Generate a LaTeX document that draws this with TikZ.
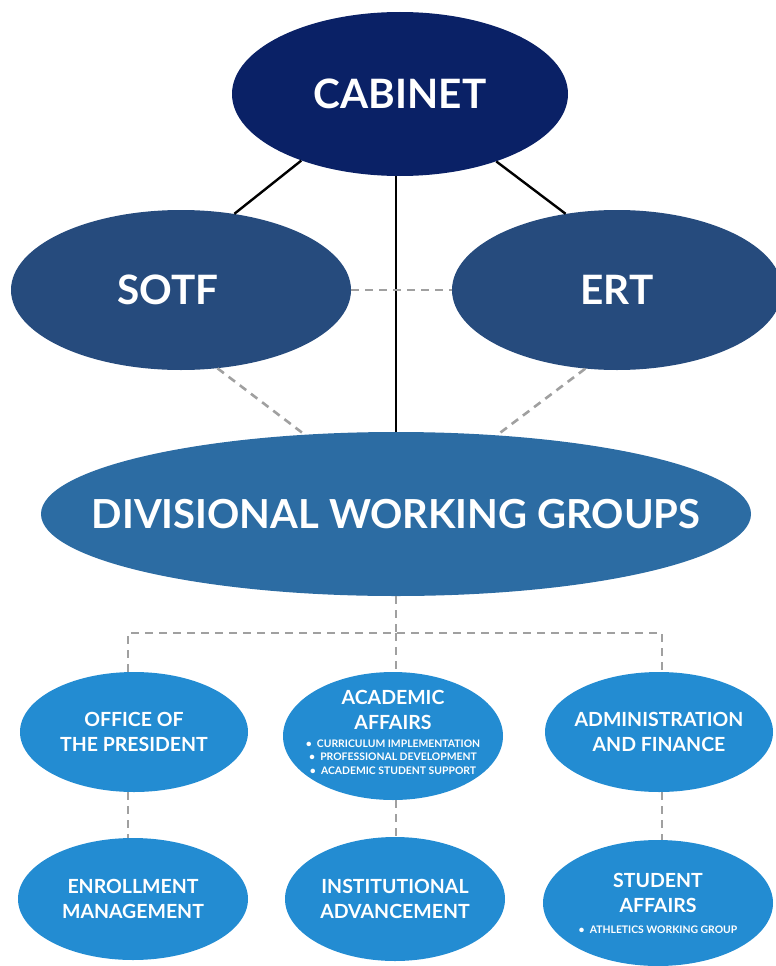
\documentclass[tikz,border=0pt]{standalone}
\usepackage{fontspec}
\setmainfont{Lato}
\usetikzlibrary{shapes.geometric}
\definecolor{navy}{RGB}{10,33,102}
\definecolor{midblue}{RGB}{38,75,125}
\definecolor{groupblue}{RGB}{44,108,163}
\definecolor{unitblue}{RGB}{35,140,210}
\definecolor{dashgray}{RGB}{160,160,160}
\newcommand\bulletfont{\bfseries\fontsize{10.4}{13.5}\selectfont}
\begin{document}
\begin{tikzpicture}[x=1pt,y=-1pt,
  oval/.style={ellipse, inner sep=0pt},
  caption/.style={text=white, align=center, inner sep=0pt},
  bigfont/.style={font=\bfseries\fontsize{40.5}{40}\selectfont},
  unitfont/.style={font=\bfseries\fontsize{19.5}{25}\selectfont},
  solidlink/.style={draw=black, line width=2.4pt},
  dashlink/.style={draw=dashgray, line width=2.6pt, dash pattern=on 8pt off 6pt}
]
\useasboundingbox (0,0) rectangle (776,966);

% top levels
\node[oval, fill=navy, minimum width=336pt, minimum height=164pt] (cab) at (400,94) {};
\node[oval, fill=midblue, minimum width=340pt, minimum height=160pt] (sotf) at (181,290) {};
\node[oval, fill=midblue, minimum width=330pt, minimum height=160pt] (ert) at (617,290) {};
\node[oval, fill=groupblue, minimum width=710pt, minimum height=164pt] (dwg) at (396,514) {};

\node[caption, bigfont] (cabtext) at (cab.center) {CABINET};
\node[caption, bigfont] (sotftext) at ([xshift=-13pt]sotf.center) {SOTF};
\node[caption, bigfont] (erttext) at (ert.center) {ERT};
\node[caption, font=\bfseries\fontsize{40}{40}\selectfont] (dwgtext) at (dwg.center) {DIVISIONAL WORKING GROUPS};

% divisions
\node[oval, fill=unitblue, minimum width=228pt, minimum height=120pt] (off) at (134,732) {};
\node[oval, fill=unitblue, minimum width=220pt, minimum height=128pt] (aca) at (393,736) {};
\node[oval, fill=unitblue, minimum width=228pt, minimum height=120pt] (adm) at (659,732) {};
\node[oval, fill=unitblue, minimum width=230pt, minimum height=122pt] (enr) at (133,899) {};
\node[oval, fill=unitblue, minimum width=220pt, minimum height=124pt] (ins) at (395,899) {};
\node[oval, fill=unitblue, minimum width=230pt, minimum height=126pt] (stu) at (658,903) {};

\node[caption, unitfont] (offtext) at (off.center) {OFFICE OF\\THE PRESIDENT};
\node[caption, unitfont] (acatext) at ([yshift=4pt]aca.center)
      {ACADEMIC\\AFFAIRS\\[-7pt]
       {\bulletfont \textbullet\ \ CURRICULUM IMPLEMENTATION}\\[-11.5pt]
       {\bulletfont \textbullet\ \ PROFESSIONAL DEVELOPMENT}\\[-11.5pt]
       {\bulletfont \textbullet\ \ ACADEMIC STUDENT SUPPORT}};
\node[caption, unitfont] (admtext) at (adm.center) {ADMINISTRATION\\AND FINANCE};
\node[caption, unitfont] (enrtext) at (enr.center) {ENROLLMENT\\MANAGEMENT};
\node[caption, unitfont] (instext) at (ins.center) {INSTITUTIONAL\\ADVANCEMENT};
\node[caption, unitfont] (stutext) at (stu.center)
      {STUDENT\\AFFAIRS\\[-4pt]
       {\bulletfont \textbullet\ \ ATHLETICS WORKING GROUP}};

% reporting lines
\path[solidlink] (cab.214) -- (sotf.55);
\path[solidlink] (cab.325) -- (ert.124);
\path[solidlink] (dwg.north) -- (dwg.north |- cab.south);

% coordination lines
\path[dashlink] (sotf.east) -- (ert.west);
\path[dashlink] (sotf.295) -- (dwg.139);
\path[dashlink] (ert.248) -- (dwg.38);

\coordinate (hub) at (396,633);
\coordinate (hl) at (128,633);
\coordinate (hr) at (662,633);
\path[dashlink] (dwg.south) -- (hub);
\path[dashlink] (hl |- off.north) -- (hl) -- (hr) -- (hr |- adm.north);
\path[dashlink] (hub) -- (hub |- aca.north);
\path[dashlink] (hl |- off.south) -- (hl |- enr.north);
\path[dashlink] (hub |- aca.south) -- (hub |- ins.north);
\path[dashlink] (hr |- adm.south) -- (hr |- stu.north);
\end{tikzpicture}
\end{document}
